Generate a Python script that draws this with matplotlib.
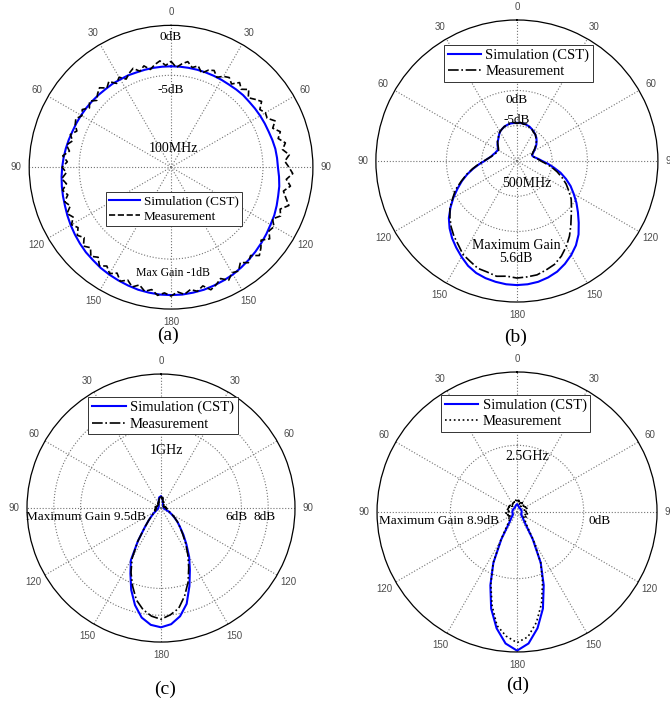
import numpy as np
import matplotlib.pyplot as plt

plt.rcParams['font.family'] = ['Liberation Serif', 'DejaVu Serif']

# angle labels round the circle (0 at the top, symmetric both sides)
THETA_TICKS = list(range(0, 360, 30))
THETA_LABELS = ['0', '30', '60', '90', '120', '150', '180', '150', '120', '90', '60', '30']

# ---- (a) 100 MHz ----
ang_a_sim = np.arange(0, 361, 5)
sim_a = [-4.1, -4.1, -4.1, -4.1, -4.1, -4.1, -4.1, -4.1, -4.05, -4.0, -4.0, -3.95,
         -3.9, -3.85, -3.8, -3.7, -3.6, -3.55, -3.5, -3.35, -3.2, -3.1, -2.95, -2.8,
         -2.7, -2.55, -2.4, -2.25, -2.1, -1.95, -1.8, -1.7, -1.6, -1.5, -1.45, -1.4,
         -1.4, -1.4, -1.45, -1.5, -1.6, -1.7, -1.8, -1.9, -2.05, -2.15, -2.3, -2.45,
         -2.6, -2.75, -2.9, -3.0, -3.1, -3.2, -3.3, -3.4, -3.5, -3.6, -3.7, -3.75,
         -3.8, -3.85, -3.9, -3.95, -4.0, -4.0, -4.05, -4.05, -4.1, -4.1, -4.1, -4.1,
         -4.1]
ang_a_meas = np.arange(0, 361, 3)
meas_a = [-3.6, -4.2, -3.8, -3.5, -4.0, -3.7, -4.3, -3.8, -3.6, -4.1, -3.7,
          -3.5, -3.9, -3.3, -3.7, -3.2, -3.8, -3.4, -3.0, -3.6, -3.3,
          -3.4, -2.8, -3.3, -2.7, -3.1, -2.5, -2.9, -2.3, -2.8, -2.4,
          -2.0, -2.6, -2.1, -2.7, -2.3, -1.8, -2.5, -2.2, -2.8, -2.3,
          -2.5, -2.0, -2.6, -2.1, -1.7, -2.3, -1.9, -2.4, -1.8, -2.0,
          -1.5, -2.0, -1.6, -1.3, -1.9, -1.5, -1.8, -1.4, -1.7, -1.3,
          -1.6, -1.3, -1.8, -1.5, -2.0, -1.6, -2.1, -1.7, -2.3, -1.9,
          -2.4, -2.0, -2.6, -2.2, -2.8, -2.4, -3.0, -2.6, -3.1, -2.7,
          -3.2, -2.8, -3.4, -3.0, -3.5, -3.1, -3.6, -3.2, -3.7, -3.3,
          -3.8, -3.3, -3.9, -3.5, -4.0, -3.6, -4.1, -3.7, -3.5, -3.9,
          -3.6, -4.1, -3.7, -4.2, -3.8, -3.5, -4.0, -3.6, -4.2, -3.8,
          -4.3, -3.9, -3.6, -4.1, -3.7, -4.2, -3.8, -3.5, -4.0,
          -3.6]

# ---- (b) 500 MHz ----
ang_b = np.arange(0, 361, 5)
sim_b = [-4.6, -4.6, -4.6, -4.7, -4.8, -5.0, -5.2, -5.45, -5.7, -6.05, -6.4, -6.8,
         -7.2, -7.5, -7.7, -7.6, -7.3, -6.9, -6.4, -5.6, -4.7, -3.6, -2.6, -1.6,
         -0.7, 0.3, 1.3, 2.4, 3.6, 4.6, 5.4, 6.1, 6.7, 7.1, 7.4, 7.55,
         7.6, 7.55, 7.4, 7.2, 6.9, 6.4, 5.7, 5.0, 4.3, 3.5, 2.6, 1.5,
         0.4, -0.7, -1.7, -2.7, -3.7, -4.6, -5.4, -5.9, -6.3, -6.5, -6.7, -6.8,
         -6.9, -6.7, -6.4, -6.15, -5.9, -5.55, -5.2, -5.0, -4.8, -4.7, -4.6, -4.6,
         -4.6]
meas_b = [-4.7, -4.5, -4.7, -4.6, -4.9, -5.0, -5.3, -5.4, -5.8, -6.1, -6.5, -6.9,
          -7.3, -7.6, -7.8, -7.6, -7.4, -7.0, -6.6, -5.9, -5.0, -4.1, -3.2, -2.3,
          -1.5, -0.6, 0.1, 0.9, 1.9, 3.0, 4.0, 4.9, 5.6, 6.0, 6.4, 6.5,
          6.6, 6.4, 6.6, 6.3, 6.2, 5.7, 5.3, 4.5, 3.9, 3.2, 2.4, 1.6,
          0.5, -0.4, -1.6, -2.6, -3.6, -4.5, -5.3, -5.9, -6.3, -6.6, -6.8, -6.9,
          -7.0, -6.8, -6.5, -6.1, -5.9, -5.5, -5.2, -5.0, -4.8, -4.7, -4.6, -4.5,
          -4.7]

# ---- (c) 1 GHz ----
ang_c = np.arange(0, 361, 5)
sim_c = [0.85, 0.8, 0.65, 0.5, 0.4, 0.35, 0.3, 0.28, 0.25, 0.22, 0.2, 0.2,
         0.2, 0.2, 0.2, 0.2, 0.2, 0.2, 0.2, 0.22, 0.25, 0.3, 0.45, 0.65,
         0.9, 1.2, 1.6, 2.0, 2.6, 3.3, 4.2, 5.1, 6.2, 7.4, 8.2, 8.7,
         8.9, 8.75, 8.3, 7.5, 6.5, 5.4, 4.5, 3.0, 1.9, 1.3, 0.9, 0.65,
         0.45, 0.35, 0.28, 0.25, 0.22, 0.2, 0.2, 0.2, 0.2, 0.2, 0.2, 0.2,
         0.2, 0.2, 0.22, 0.25, 0.28, 0.3, 0.35, 0.4, 0.5, 0.65, 0.8, 0.85,
         0.85]
meas_c = [0.9, 0.7, 0.8, 0.55, 0.45, 0.5, 0.35, 0.4, 0.3, 0.35, 0.25, 0.3,
          0.2, 0.3, 0.25, 0.35, 0.3, 0.4, 0.35, 0.45, 0.4, 0.5, 0.55, 0.75,
          0.95, 1.25, 1.6, 2.0, 2.5, 3.2, 4.0, 4.9, 5.9, 6.8, 7.6, 8.0,
          8.3, 8.1, 7.7, 7.1, 6.2, 5.3, 4.3, 3.0, 1.9, 1.3, 0.9, 0.7,
          0.55, 0.45, 0.5, 0.4, 0.45, 0.35, 0.4, 0.35, 0.45, 0.3, 0.4, 0.3,
          0.35, 0.25, 0.3, 0.35, 0.3, 0.4, 0.35, 0.5, 0.45, 0.6, 0.7, 0.85,
          0.9]

# ---- (d) 2.5 GHz ----
ang_d = np.arange(0, 361, 5)
sim_d = [-8.9, -8.95, -9.0, -9.1, -9.2, -9.25,
         -9.3, -9.3, -9.3, -9.3, -9.3, -9.3, -9.3, -9.3, -9.3, -9.3,
         -9.3, -9.3, -9.3, -9.3, -9.3, -9.3, -9.3, -9.3, -9.3,
         -9.2, -9.1, -8.8, -8.5, -7.8, -5.3, -1.6, 1.7, 5.0, 7.7, 9.8, 10.8,
         9.8, 7.7, 5.0, 1.7, -1.6, -5.3, -7.8, -8.5, -8.8, -9.1, -9.2,
         -9.3, -9.3, -9.3, -9.3, -9.3, -9.3, -9.3, -9.3, -9.3, -9.3,
         -9.3, -9.3, -9.3, -9.3, -9.3, -9.3, -9.3, -9.3, -9.3,
         -9.25, -9.2, -9.1, -9.0, -8.95, -8.9]
meas_d = [-8.2, -8.6, -8.0, -8.9, -8.3, -8.8, -8.4, -9.0, -8.5, -8.7, -8.4, -8.9,
          -8.5, -8.8, -8.4, -8.9, -8.5, -8.7, -8.3, -8.8, -8.4, -8.9, -8.5, -8.7,
          -8.4, -8.8, -8.6, -8.3, -8.0, -7.3, -5.0, -1.6, 1.2, 4.2, 6.8, 8.8,
          9.6, 8.7, 7.3, 4.5, 1.5, -1.5, -5.1, -7.2, -8.1, -8.4, -8.7, -8.3,
          -8.8, -8.4, -8.9, -8.5, -8.7, -8.3, -8.8, -8.4, -8.9, -8.5, -8.7, -8.4,
          -8.9, -8.5, -8.8, -8.4, -8.9, -8.5, -8.7, -8.3, -8.8, -8.4, -8.6, -8.1,
          -8.2]


def setup_polar(ax, rmin, rmax, rings):
    ax.set_theta_zero_location('N')
    ax.set_theta_direction(-1)
    ax.set_rlim(rmin, rmax)
    ax.set_rgrids(rings, labels=[''] * len(rings))
    ax.set_thetagrids(THETA_TICKS, labels=THETA_LABELS, fontsize=7, color='0.3',
                      family='Liberation Sans')
    ax.tick_params(axis='x', pad=-1)
    ax.grid(True, linestyle=':', color='0.45', linewidth=0.8)
    ax.spines['polar'].set_linewidth(0.9)


def add_legend(ax, anchor, fs=10):
    leg = ax.legend(loc='upper left', bbox_to_anchor=anchor, fontsize=fs, frameon=True,
                    fancybox=False, framealpha=1, edgecolor='0.2', borderaxespad=0,
                    handlelength=2.3, handletextpad=0.3, borderpad=0.25, labelspacing=0.2)
    leg.get_frame().set_linewidth(0.7)
    leg.set_zorder(10)


fig = plt.figure(figsize=(6.7, 7.04), dpi=100)

# (a)
ax = fig.add_axes([0.0433, 0.561, 0.424, 0.403], projection='polar')
setup_polar(ax, -14.2, 0, [-5])
ax.plot(np.deg2rad(ang_a_sim), sim_a, color='blue', lw=1.5, label='Simulation (CST)')
ax.plot(np.deg2rad(ang_a_meas), meas_a, color='black', lw=1.2, ls='--', label='Measurement')
ax.text(0.5, 0.958, '0dB', transform=ax.transAxes, ha='center', va='center', fontsize=9.5)
ax.text(0.5, 0.771, '-5dB', transform=ax.transAxes, ha='center', va='center', fontsize=9.5)
ax.text(0.507, 0.567, '100MHz', transform=ax.transAxes, ha='center', va='center', fontsize=10)
ax.text(0.507, 0.127, 'Max Gain -1dB', transform=ax.transAxes, ha='center', va='center', fontsize=8.5)
add_legend(ax, (0.271, 0.412), fs=9.5)

# (b)
ax = fig.add_axes([0.561, 0.571, 0.421, 0.4006], projection='polar')
setup_polar(ax, -10, 10, [-5, 0])
ax.plot(np.deg2rad(ang_b), sim_b, color='blue', lw=1.5, label='Simulation (CST)')
ax.plot(np.deg2rad(ang_b), meas_b, color='black', lw=1.2, ls='-.', label='Measurement')
ax.text(0.5, 0.716, '0dB', transform=ax.transAxes, ha='center', va='center', fontsize=9.5)
ax.text(0.5, 0.645, '-5dB', transform=ax.transAxes, ha='center', va='center', fontsize=9.5)
ax.text(0.535, 0.422, '500MHz', transform=ax.transAxes, ha='center', va='center', fontsize=10)
ax.text(0.497, 0.176, 'Maximum Gain\n5.6dB', transform=ax.transAxes, ha='center', va='center',
        fontsize=10, linespacing=1.0)
add_legend(ax, (0.241, 0.911), fs=10.5)

# (c)
ax = fig.add_axes([0.0403, 0.088, 0.4, 0.3807], projection='polar')
setup_polar(ax, 0, 10, [6, 8])
ax.plot(np.deg2rad(ang_c), sim_c, color='blue', lw=1.5, label='Simulation (CST)')
ax.plot(np.deg2rad(ang_c), meas_c, color='black', lw=1.2, ls='-.', label='Measurement')
ax.text(0.521, 0.716, '1GHz', transform=ax.transAxes, ha='center', va='center', fontsize=10)
ax.text(0.219, 0.465, 'Maximum Gain 9.5dB', transform=ax.transAxes, ha='center', va='center', fontsize=9.5)
ax.text(0.782, 0.465, '6dB', transform=ax.transAxes, ha='center', va='center', fontsize=9.5)
ax.text(0.888, 0.465, '8dB', transform=ax.transAxes, ha='center', va='center', fontsize=9.5)
add_legend(ax, (0.229, 0.913), fs=10.5)

# (d)
ax = fig.add_axes([0.5627, 0.0739, 0.418, 0.3977], projection='polar')
setup_polar(ax, -10, 11, [0])
ax.plot(np.deg2rad(ang_d), sim_d, color='blue', lw=1.5, label='Simulation (CST)')
ax.plot(np.deg2rad(ang_d), meas_d, color='black', lw=1.2, ls=':', label='Measurement')
ax.text(0.535, 0.697, '2.5GHz', transform=ax.transAxes, ha='center', va='center', fontsize=10)
ax.text(0.221, 0.467, 'Maximum Gain 8.9dB', transform=ax.transAxes, ha='center', va='center', fontsize=9.5)
ax.text(0.796, 0.467, '0dB', transform=ax.transAxes, ha='center', va='center', fontsize=9.5)
add_legend(ax, (0.229, 0.918), fs=10.5)

# sub-figure letters
fig.text(0.251, 0.524, '(a)', ha='center', va='center', fontsize=14)
fig.text(0.769, 0.521, '(b)', ha='center', va='center', fontsize=14)
fig.text(0.246, 0.0213, '(c)', ha='center', va='center', fontsize=14)
fig.text(0.772, 0.027, '(d)', ha='center', va='center', fontsize=14)

fig.savefig('out.png', dpi=100)
